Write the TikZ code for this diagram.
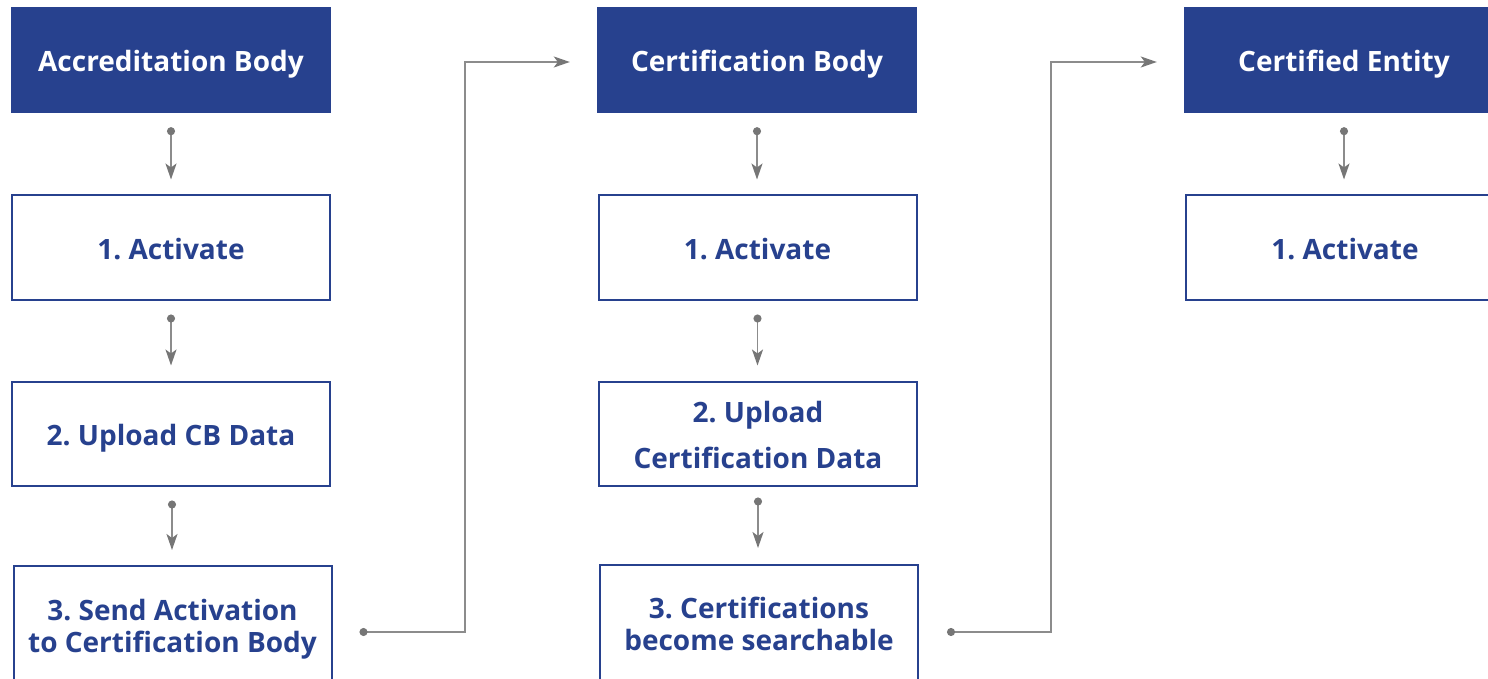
\documentclass[tikz,border=0pt]{standalone}
\usepackage{fontspec}
\setmainfont{Open Sans}
\frenchspacing
\usetikzlibrary{arrows.meta,calc}
\definecolor{navy}{HTML}{27418E}
\definecolor{gline}{HTML}{8C8C8C}
\definecolor{gdot}{HTML}{767676}
\tikzset{
  hdr/.style={fill=navy, text=white, minimum width=320pt, minimum height=106pt,
    inner sep=0pt, text height=24pt, text depth=0pt,
    font=\fontsize{28}{32}\selectfont\bfseries},
  stepbox/.style={draw=navy, line width=2pt, fill=white, text=navy, minimum width=318pt,
    minimum height=104pt, inner sep=0pt, text height=24pt, text depth=0pt,
    font=\fontsize{28}{32}\selectfont\bfseries},
  twoline/.style={text height=0pt, text depth=#1},
  arr/.style={draw=gline, line width=1.8pt,
    {Circle[length=8pt,color=gdot]}-{Stealth[length=16pt,width=11pt,inset=4pt,color=gdot]}},
}
\newcommand{\twol}[2]{\begin{tabular}[t]{@{}c@{}}#1\\#2\end{tabular}}
\begin{document}
\begin{tikzpicture}[x=1pt,y=-1pt]
\useasboundingbox (0,0) rectangle (1488,679);
% column 1
\node[hdr] (ab) at (171,60) {Accreditation Body};
\node[stepbox] (a1) at (171,247.5) {1. Activate};
\node[stepbox] (a2) at (171,433.5) {2. Upload CB Data};
\node[stepbox, minimum height=130pt, twoline=22pt] (a3) at (172.5,631) {\twol{3. Send Activation}{to Certification Body}};
% column 2
\node[hdr] (cb) at (757,60) {Certification Body};
\node[stepbox] (c1) at (757.5,247.5) {1. Activate};
\node[stepbox, font=\fontsize{28}{46}\selectfont\bfseries, twoline=23pt] (c2) at (758,433.5) {\twol{2. Upload}{Certification Data}};
\node[stepbox, minimum height=130pt, twoline=23pt] (c3) at (759,630) {\twol{3. Certifications}{become searchable}};
% column 3
\node[hdr] (ce) at (1344,60) {Certified Entity};
\node[stepbox] (e1) at (1345,247.5) {1. Activate};
% vertical connectors
\draw[arr, shorten <=14pt, shorten >=15pt] (ab.south) -- (ab.south |- a1.north);
\draw[arr, shorten <=14pt, shorten >=15pt] (a1.south) -- (a1.south |- a2.north);
\draw[arr, shorten <=14pt, shorten >=15pt] ([xshift=1pt]a2.south) -- ([xshift=1pt]a2.south |- a3.north);
\draw[arr, shorten <=14pt, shorten >=15pt] (cb.south) -- (cb.south |- c1.north);
\draw[arr, shorten <=14pt, shorten >=15pt] (c1.south) -- (c1.south |- c2.north);
\draw[arr, shorten <=11pt, shorten >=16pt] (c2.south) -- (c2.south |- c3.north);
\draw[arr, shorten <=14pt, shorten >=15pt] (ce.south) -- (ce.south |- e1.north);
% horizontal connectors
\coordinate (j1) at (465,0);
\coordinate (j2) at (1051,0);
\draw[arr] ([xshift=27pt,yshift=-1pt]a3.east) -| ([yshift=-2pt]j1 |- cb.west) -- ([xshift=-27pt,yshift=-2pt]cb.west);
\draw[arr] ([xshift=28pt,yshift=-2pt]c3.east) -| ([yshift=-2pt]j2 |- ce.west) -- ([xshift=-27pt,yshift=-2pt]ce.west);
\end{tikzpicture}
\end{document}
